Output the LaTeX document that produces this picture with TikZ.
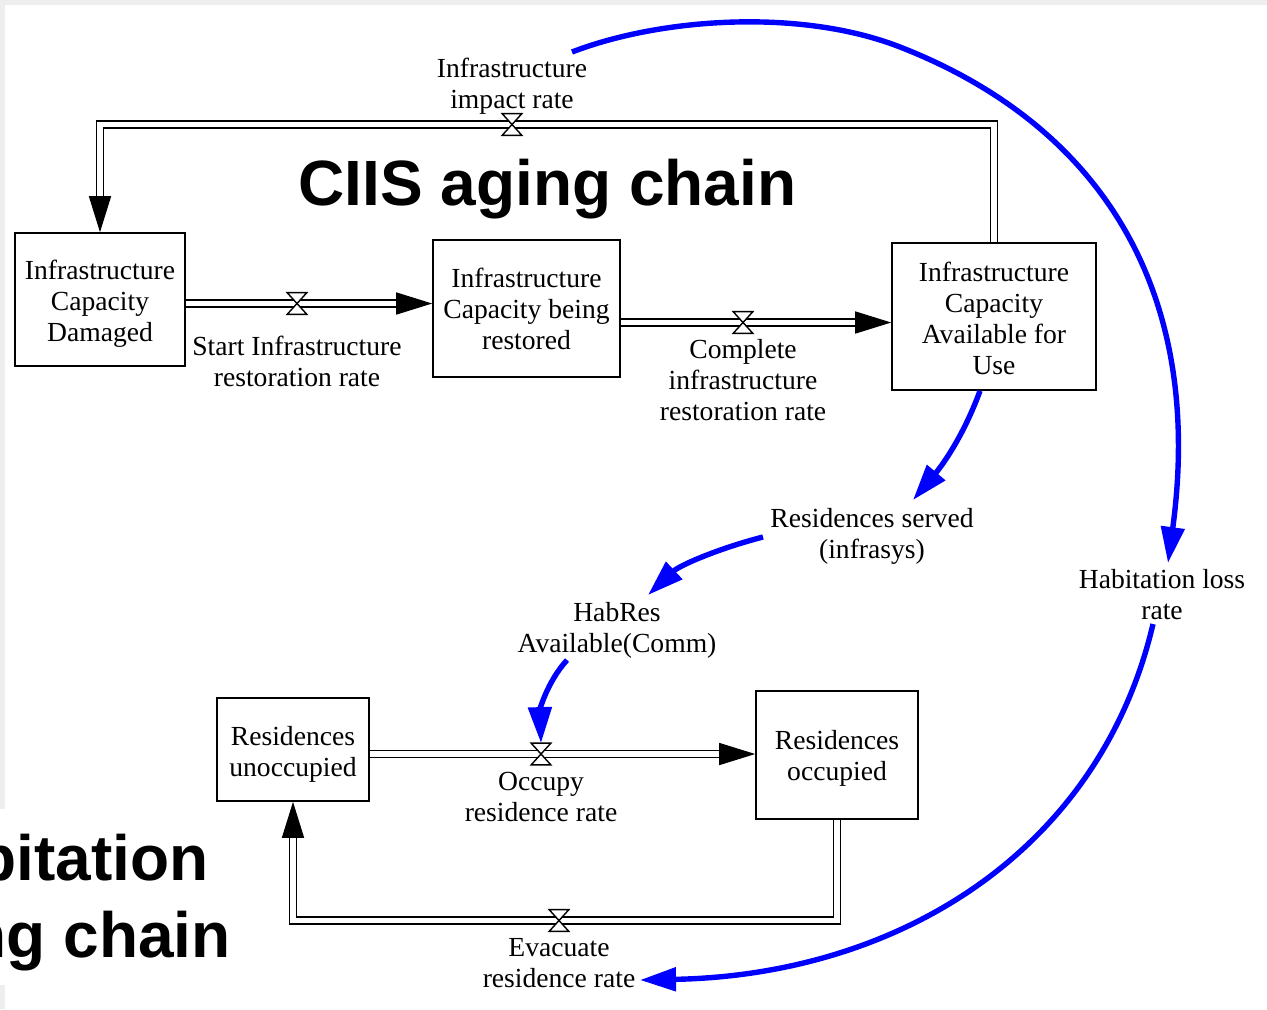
\documentclass[tikz,border=0pt]{standalone}
\usepackage{fontspec}
\setmainfont{Liberation Serif}
\newfontfamily\titlefont{Liberation Sans}
\usetikzlibrary{arrows.meta}
\definecolor{bgstrip}{RGB}{238,238,238}
\definecolor{flowblue}{RGB}{0,0,255}
\begin{document}
\begin{tikzpicture}[x=0.5pt,y=-0.5pt,
 stock/.style={draw=black, line width=0.8pt, inner sep=0pt},
 lbl/.style={inner sep=0pt, align=center, font=\fontsize{13.8}{15.5}\selectfont},
 pipe/.style={draw=black, line width=0.75pt, double=white, double distance=2.6pt},
 pipehead/.style={draw=black, line width=0.75pt, -{Triangle[length=18pt,width=11pt]}},
 valve/.style={inner sep=0pt, minimum width=9.5pt, minimum height=10.5pt},
 valveshape/.style={draw=black, fill=white, line width=0.7pt, line join=miter},
 link/.style={draw=flowblue, line width=2.7pt, -{Triangle[length=18pt,width=11.5pt]}},
 bigtitle/.style={inner sep=0pt, font=\titlefont\bfseries\fontsize{32}{38.5}\selectfont}
]
\clip (0,0) rectangle (1267,1009);
\useasboundingbox (0,0) rectangle (1267,1009);
% background
\fill[bgstrip] (0,0) rectangle (1267,1009);
\fill[white] (5,5) rectangle (1267,1009);
\fill[white] (0,809) rectangle (240,985);

% titles
\node[bigtitle, anchor=base] (ttop) at (547.5,205) {CIIS aging chain};
\node[bigtitle, anchor=base] (thab1) at (52,880) {Habitation};
\node[bigtitle, anchor=base] (thab2) at (53,957) {aging chain};

% stocks
\node[stock, minimum width=85pt, minimum height=66.5pt] (box1) at (100,299.5) {};
\node[stock, minimum width=93.5pt, minimum height=68.5pt] (box2) at (526.5,308.5) {};
\node[stock, minimum width=102pt, minimum height=73.5pt] (box3) at (994,316.5) {};
\node[stock, minimum width=76pt, minimum height=51.5pt] (box4) at (293,749.5) {};
\node[stock, minimum width=81pt, minimum height=64pt] (box5) at (837,755) {};
\node[lbl] (t1) at (100,304) {Infrastructure\\Capacity\\Damaged};
\node[lbl] (t2) at (526.5,309) {Infrastructure\\Capacity being\\restored};
\node[lbl] (t3) at (994,318) {Infrastructure\\Capacity\\Available for\\Use};
\node[lbl] (t4) at (293,754) {Residences\\unoccupied};
\node[lbl] (t5) at (837,758.5) {Residences\\occupied};

% valves (positions)
\node[valve] (vstart) at (297,303.5) {};
\node[valve] (vcomplete) at (743,322.5) {};
\node[valve] (vimpact) at (512,124.5) {};
\node[valve] (voccupy) at (541,754) {};
\node[valve] (vevac) at (559,920.5) {};

% labels
\node[lbl] (lstart) at (297,361.5) {Start Infrastructure\\restoration rate};
\node[lbl] (lcomplete) at (743,380.5) {Complete\\infrastructure\\restoration rate};
\node[lbl] (limpact) at (512,86.5) {Infrastructure\\impact rate};
\node[lbl] (loccupy) at (541,796.5) {Occupy\\residence rate};
\node[lbl] (levac) at (559,963) {Evacuate\\residence rate};
\node[lbl] (served) at (872,536.5) {Residences served\\(infrasys)};
\node[lbl] (habres) at (617,630.5) {HabRes\\Available(Comm)};
\node[lbl] (hloss) at (1162,594.5) {Habitation loss\\rate};

% pipe end coordinates
\coordinate (p1e) at (box2.west |- vstart);
\coordinate (p2e) at (box3.west |- vcomplete);
\coordinate (p3e) at (box5.west |- voccupy);

% pipes
\draw[pipe] (box1.east |- vstart) -- ([xshift=-17pt]p1e);
\draw[pipehead] ([xshift=-18pt]p1e) -- (p1e);
\draw[pipe] (box2.east |- vcomplete) -- ([xshift=-17pt]p2e);
\draw[pipehead] ([xshift=-18pt]p2e) -- (p2e);
\draw[pipe] (box3.north) |- (vimpact.center) -| ([yshift=17pt]box1.north);
\draw[pipehead] ([yshift=18pt]box1.north) -- (box1.north);
\draw[pipe] (box4.east |- voccupy) -- ([xshift=-17pt]p3e);
\draw[pipehead] ([xshift=-18pt]p3e) -- (p3e);
\draw[pipe] (box5.south) |- (vevac.center) -| ([yshift=-17pt]box4.south);
\draw[pipehead] ([yshift=-18pt]box4.south) -- (box4.south);

% valve shapes
\foreach \v in {vstart,vcomplete,vimpact,voccupy,vevac}
  \draw[valveshape] (\v.north west) -- (\v.north east) -- (\v.south west) -- (\v.south east) -- cycle;

% information links
\draw[link] ([xshift=-7pt]box3.south) .. controls (965,432) and (945,462) .. ([xshift=20.5pt,yshift=18.25pt]served.center);
\draw[link] ([xshift=-54.5pt,yshift=-0.25pt]served.center) .. controls (720,548) and (680,565) .. ([xshift=15.5pt,yshift=17.75pt]habres.center);
\draw[link] ([xshift=-25pt,yshift=-14.75pt]habres.center) .. controls (547,682) and (540,710) .. (voccupy.north);
\draw[link] ([xshift=30pt,yshift=17.25pt]limpact.center) .. controls (660,18) and (800,8) .. (900,47) .. controls (1100,125) and (1205,290) .. ([xshift=3pt,yshift=15.75pt]hloss.center);
\draw[link] ([xshift=-4.5pt,yshift=-14.75pt]hloss.center) .. controls (1100,850) and (900,975) .. ([xshift=40.5pt,yshift=-8.5pt]levac.center);
\end{tikzpicture}
\end{document}
